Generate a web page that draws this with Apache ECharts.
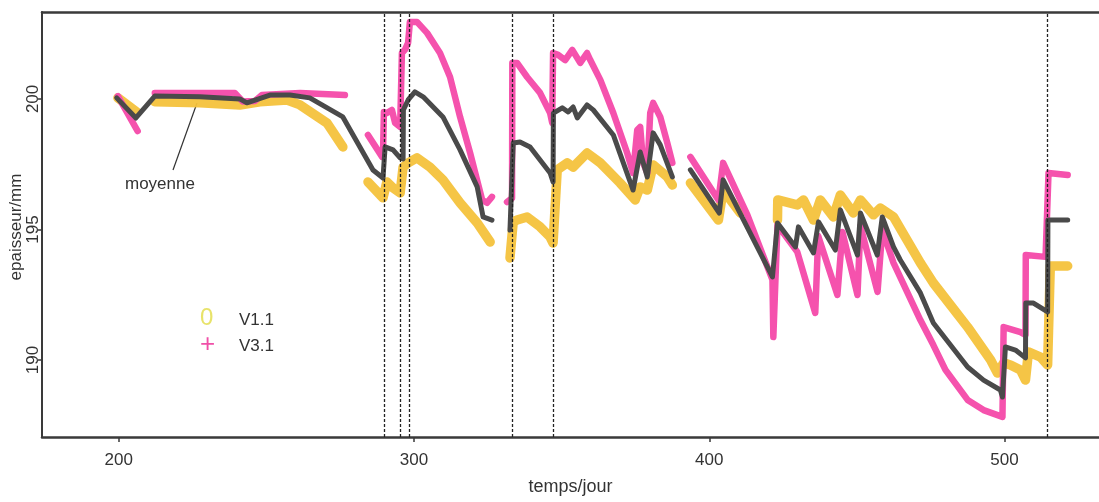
<!DOCTYPE html>
<html>
<head>
<meta charset="utf-8">
<script src="https://cdn.jsdelivr.net/npm/echarts@6/dist/echarts.min.js"></script>
<style>
html,body{margin:0;padding:0;background:#fff;}
#c{width:1099px;height:502px;}
</style>
</head>
<body>
<div id="c"></div>
<script>
// ---- data (null value = gap in the record) ----
const xTicks = [200, 300, 400, 500];
const yTicks = [190, 195, 200];
const eventDays = [290, 295.5, 298.3, 333.2, 347.1, 514.6];

const meanDays = [199.3,205.8,212.2,227.5,241,243.4,251.2,258,264.7,275.9,286.1,289.5,290.2,292.9,295.3,296.3,296.4,298,300.3,303.1,309.8,315.6,321.4,323.4,326.4,
  329,
  332.5,333.6,335.9,339.3,346.1,347.1,347.2,350.2,352.2,353.9,355.3,358.6,360.7,367.5,374.2,376.6,379,381,383.4,387.5,
  390,
  393.6,403.4,404.7,421.4,423.1,429.2,430.2,435.3,437,442.7,444.4,450.2,451.2,456.9,458.6,462.4,464.7,471.5,475.9,487.5,492.9,498.6,499.3,500.3,503.7,507.1,507.2,509.8,514.6,514.7,521.4];
const meanVals = [200.04,199.27,200.11,200.08,200.0,199.85,200.15,200.15,200.04,199.31,197.28,196.97,198.16,198.05,197.74,197.70,199.58,199.96,200.27,200.08,199.31,198.05,196.63,195.48,195.36,
  null,
  194.98,198.31,198.35,198.16,197.16,196.82,199.46,199.66,199.5,199.69,199.27,199.77,199.58,198.62,196.51,197.97,197.01,198.70,198.24,197.01,
  null,
  197.28,195.63,196.90,193.18,195.25,194.33,195.10,194.10,195.29,194.21,195.75,194.02,195.63,194.02,195.48,194.33,193.83,192.57,191.42,189.73,189.23,188.85,188.58,190.5,190.38,190.08,192.18,192.18,191.84,195.36,195.36];

const v31Days = [199.7,206.4,
  209,
  212.2,227.5,239.3,242,246.1,248.5,261.4,276.6,
  280,
  284.4,289.2,289.5,289.8,290.8,292.5,293.6,295.3,295.9,296.9,298,298.6,301,304.4,308.8,312.2,315.6,319,323.1,324.7,326.4,
  329,
  331.5,333.2,333.3,334.9,338.3,342.7,346.1,346.8,347.1,348.8,351.2,353.6,356.3,358.6,359.7,363.1,367.5,372.2,374.2,375.6,376.6,377.6,379,380,381,383.4,385.8,387.5,
  390,
  393.6,403.1,404.7,412.9,421.4,421.7,423.1,429.8,435.9,436.9,443.4,445.1,450.2,451.2,457,458.6,462.4,471.5,475.9,480,487.5,492.9,499.3,499.7,505.4,507.1,507.2,513.9,514.9,521.4];
const v31Vals = [200.11,198.77,
  null,
  200.23,200.23,200.23,199.90,199.92,200.15,200.23,200.15,
  null,
  198.62,197.78,197.9,199.5,199.46,199.58,199.08,198.93,201.76,201.88,202.15,202.95,202.95,202.53,201.76,200.84,199.31,197.93,196.13,196.02,196.25,
  null,
  196.05,196.2,201.38,201.38,200.84,200.23,199.46,199.08,201.76,201.69,201.49,201.88,201.38,201.76,201.49,200.73,199.46,197.93,197.16,198.81,198.93,197.55,197.16,199.46,199.85,199.31,198.31,197.55,
  null,
  197.78,196.13,197.55,195.56,193.07,190.88,195.17,194.14,191.80,194.75,192.49,194.90,192.49,195.13,192.61,194.98,193.72,191.53,190.57,189.62,188.47,188.08,187.82,191.26,191.07,190.96,194.02,193.95,197.16,197.09];

const v11Days = [199.7,206.1,
  209,
  212.2,227.5,241,247.8,257,261.4,270.5,275.9,
  280,
  284.4,289.5,290.8,292.9,295.3,296.3,298,301,305.4,309.8,315.6,321.4,325.8,
  329,
  332.5,333.6,334.9,338.3,342.7,346.1,347.1,348.5,351.9,353.9,358.6,363.1,369.8,374.9,376.6,379,381,385.8,387.5,
  390,
  393.6,403.1,404.7,410.5,
  417,
  423.1,423.2,429.8,431.9,435.3,437.6,442,444.4,448.8,451.2,455.6,458,462.4,471.5,475.9,487.5,495.3,497.6,499.7,502,505.4,507.1,508.1,512.2,514.6,515.5,521.4];
const v11Vals = [200.04,199.5,
  null,
  199.89,199.85,199.77,199.89,199.96,199.77,199.08,198.16,
  null,
  196.82,196.21,196.82,196.59,196.40,197.39,197.55,197.74,197.39,196.90,196.02,195.25,194.52,
  null,
  193.91,195.29,195.36,195.48,195.10,194.71,194.48,197.28,197.55,197.39,197.93,197.55,196.78,196.13,196.63,196.51,197.47,197.01,196.70,
  null,
  196.78,195.36,196.51,195.63,
  null,
  195.36,196.13,195.94,196.13,195.36,196.13,195.48,196.32,195.63,196.13,195.56,195.82,195.48,193.72,192.95,191.26,190.00,189.50,189.89,189.81,189.62,189.23,190.31,190.11,189.81,193.6,193.6];

function pairs(days, vals){
  return days.map((d,i)=>[d, vals[i]==null ? '-' : vals[i]]);
}

const FONT = 'Liberation Sans, Arial, Helvetica, sans-serif';
const TXT = '#333';
const X_MIN = 174, X_MAX = 532, Y_MIN = 187.05, Y_MAX = 203.33;

const chart = echarts.init(document.getElementById('c'), null, {renderer:'canvas'});
chart.setOption({
  animation:false,
  backgroundColor:'#fff',
  grid:{left:42, right:0, top:12, bottom:65, containLabel:false, outerBoundsMode:'none'},
  xAxis:[{
    type:'value', min:X_MIN, max:X_MAX, position:'bottom',
    name:'temps/jour', nameLocation:'middle', nameGap:41,
    nameTextStyle:{fontSize:18, color:TXT, fontFamily:FONT},
    axisLine:{show:true, lineStyle:{color:'#3a3a3a', width:2.5}},
    axisTick:{show:true, length:5, customValues:xTicks, lineStyle:{color:'#3a3a3a', width:1.5}},
    axisLabel:{customValues:xTicks, fontSize:17, color:TXT, fontFamily:FONT, margin:15},
    splitLine:{show:false}
  },{
    type:'value', min:X_MIN, max:X_MAX, position:'top',
    axisLine:{show:true, lineStyle:{color:'#3a3a3a', width:2.5}},
    axisTick:{show:false}, axisLabel:{show:false}, splitLine:{show:false}
  }],
  yAxis:{
    type:'value', min:Y_MIN, max:Y_MAX,
    axisLine:{show:true, lineStyle:{color:'#3a3a3a', width:2}},
    axisTick:{show:true, length:4, customValues:yTicks, lineStyle:{color:'#3a3a3a', width:1.5}},
    axisLabel:{customValues:yTicks, rotate:90, fontSize:17, color:TXT, fontFamily:FONT, margin:0},
    splitLine:{show:false}
  },
  series:[
    {
      name:'events', type:'line', data:[], z:1, silent:true,
      markLine:{
        silent:true, symbol:['none','none'], label:{show:false},
        lineStyle:{color:'#222', width:1.3, type:[3,2]},
        data: eventDays.map(d=>({xAxis:d}))
      }
    },
    {
      name:'V1.1', type:'line', z:2, showSymbol:false, symbol:'none', connectNulls:false,
      data:pairs(v11Days, v11Vals),
      lineStyle:{color:'#f4c23c', width:9.5, cap:'round', join:'round', opacity:0.95}
    },
    {
      name:'V3.1', type:'line', z:3, showSymbol:false, symbol:'none', connectNulls:false,
      data:pairs(v31Days, v31Vals),
      lineStyle:{color:'#f552ad', width:6.5, cap:'round', join:'round'}
    },
    {
      name:'moyenne', type:'line', z:4, showSymbol:false, symbol:'none', connectNulls:false,
      data:pairs(meanDays, meanVals),
      lineStyle:{color:'#4a4a4a', width:5, cap:'round', join:'round'}
    }
  ],
  graphic:[
    {type:'text', x:16, y:227, rotation:Math.PI/2, style:{text:'epaisseur/mm', fontSize:17, fill:TXT, fontFamily:FONT, align:'center', verticalAlign:'middle'}},
    {type:'text', left:200, top:306, style:{text:'0', fontSize:24, fill:'#e8e36a', fontFamily:FONT}},
    {type:'text', left:200, top:332, style:{text:'+', fontSize:26, fill:'#f050a8', fontFamily:FONT}},
    {type:'text', left:239, top:312, style:{text:'V1.1', fontSize:17, fill:TXT, fontFamily:FONT}},
    {type:'text', left:239, top:338, style:{text:'V3.1', fontSize:17, fill:TXT, fontFamily:FONT}},
    {type:'text', left:125, top:176, style:{text:'moyenne', fontSize:17, fill:TXT, fontFamily:FONT}},
    {type:'line', shape:{x1:173, y1:170, x2:197, y2:103}, style:{stroke:'#333', lineWidth:1.2}}
  ]
});
</script>
</body>
</html>
